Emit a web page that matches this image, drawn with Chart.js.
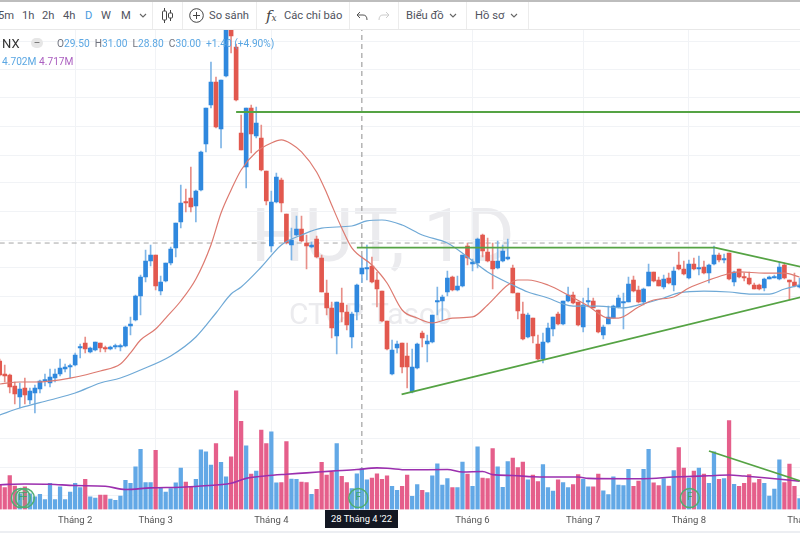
<!DOCTYPE html>
<html>
<head>
<meta charset="utf-8">
<title>HUT, 1D</title>
<script src="https://cdn.jsdelivr.net/npm/chart.js@4/dist/chart.umd.min.js"></script>
<style>
  html, body { margin: 0; padding: 0; background: #fff; }
  #wrap { position: relative; width: 800px; height: 533px; overflow: hidden; font-family: Roboto, "Noto Sans", sans-serif; color: #444; filter: blur(0.35px); }
  #cookie { position: absolute; left: 0; top: 0; }
  .wm { position: absolute; color: #ebebee; white-space: nowrap; }
  #toolbar { position: absolute; left: 0; top: 0; width: 800px; height: 30px; background: #fff; border-top: 2px solid #bdbdbd; border-bottom: 1px solid #e8e8e8; box-sizing: border-box; }
  #toolbar span, #toolbar svg, #toolbar i { position: absolute; }
  #toolbar span { top: 7px; font-size: 11.2px; line-height: 14px; color: #50535e; white-space: nowrap; }
  #toolbar i { top: 0; bottom: 0; width: 1px; background: #ececec; }
  .leg { position: absolute; font-size: 10.2px; line-height: 13px; color: #5ba7e3; white-space: nowrap; }
  .leg b { font-weight: 400; color: #70737e; }
  #pill { position: absolute; left: 31px; top: 38px; width: 12px; height: 10px; border-radius: 5px; background: #e6e6e6; color: #666; font-size: 10px; line-height: 9px; text-align: center; }
  #stamp { position: absolute; left: 325px; top: 510px; width: 73px; height: 18px; background: #131722; color: #fff; font-size: 9.4px; line-height: 18px; text-align: center; }
  #foot { position: absolute; left: 0; top: 531px; width: 800px; height: 2px; background: #eceef2; }
</style>
</head>
<body>
<div id="wrap">
  <div class="wm" style="left:251px;top:193px;font-size:75px;line-height:84px;">HUT, 1D</div>
  <div class="wm" style="left:289px;top:293px;font-size:30px;line-height:42px;">CTCP Tasco</div>
  <canvas id="cookie" width="800" height="533"></canvas>
  <div id="toolbar">
    <span style="left:-2px">5m</span><span style="left:22px">1h</span><span style="left:42px">2h</span><span style="left:63px">4h</span>
    <span style="left:85px;color:#4a9be0">D</span><span style="left:101px">W</span><span style="left:121px">M</span>
    <svg style="left:139px;top:11px" width="8" height="6"><path d="M1 1l3 3 3-3" fill="none" stroke="#666" stroke-width="1.1"/></svg>
    <i style="left:152px"></i>
    <svg style="left:161px;top:5px" width="13" height="17"><path d="M3.5 1v15M9.5 3v11" stroke="#444"/><rect x="1.5" y="4" width="4" height="9" rx="1" fill="#fff" stroke="#444"/><rect x="7.5" y="6" width="4" height="5" rx="1" fill="#fff" stroke="#444"/></svg>
    <i style="left:182px"></i>
    <svg style="left:189px;top:6px" width="15" height="15"><circle cx="7.5" cy="7.5" r="6.8" fill="none" stroke="#444"/><path d="M7.5 4v7M4 7.5h7" stroke="#444"/></svg>
    <span style="left:209px">So sánh</span>
    <i style="left:256px"></i>
    <span style="left:266px;top:5px;font:italic 15px 'DejaVu Serif',serif;color:#444">f<small style="font-size:9px">x</small></span>
    <span style="left:284px">Các chỉ báo</span>
    <i style="left:349px"></i>
    <svg style="left:356px;top:9px" width="12" height="10"><path d="M4 1L1 4l3 3M1 4h6q4 0 4 5" fill="none" stroke="#555"/></svg>
    <svg style="left:378px;top:9px" width="12" height="10"><path d="M8 1l3 3-3 3M11 4H5q-4 0-4 5" fill="none" stroke="#ccc"/></svg>
    <i style="left:398px"></i>
    <span style="left:406px">Biểu đồ</span>
    <svg style="left:449px;top:11px" width="8" height="6"><path d="M1 1l3 3 3-3" fill="none" stroke="#666" stroke-width="1.1"/></svg>
    <i style="left:466px"></i>
    <span style="left:475px">Hồ sơ</span>
    <svg style="left:510px;top:11px" width="8" height="6"><path d="M1 1l3 3 3-3" fill="none" stroke="#666" stroke-width="1.1"/></svg>
    <i style="left:528px"></i>
  </div>
  <div class="leg" style="left:2px;top:36px;font-size:13px;line-height:15px;color:#333">NX</div>
  <div id="pill">–</div>
  <div class="leg" style="left:57px;top:37px"><b>O</b>29.50&nbsp; <b>H</b>31.00&nbsp; <b>L</b>28.80&nbsp; <b>C</b>30.00&nbsp; +1.40 (+4.90%)</div>
  <div class="leg" style="left:2px;top:55px">4.702M</div>
  <div class="leg" style="left:39px;top:55px;color:#ab5fc0">4.717M</div>
  <div id="stamp">28 Tháng 4 '22</div>
  <div id="foot"></div>
</div>
<script>
var opens = [22.25,21.17,21.08,20.17,19.25,20,19,19.58,19.92,20.58,20.42,20.83,21.17,21.58,21.75,21.92,23.33,23.75,23,23.17,
  23.75,23.33,23.25,23.42,23.42,23.5,25.17,25.67,27.67,29.25,30.58,31.08,28.08,28.92,30.42,31.67,33.83,35.5,35.83,35.17,
  36.5,40.33,43.58,45.5,41.58,46,50.25,48.42,41.25,38.42,43.33,41,40.83,38.08,31.83,35.5,37.33,34.5,31.92,32.75,
  33.25,32.08,31.75,32.42,30.83,27.92,26.67,24.33,27.08,26.33,24.25,26.33,29.5,29.92,30.17,29,28.08,25.58,21.17,23.33,
  23.75,22.67,19.67,21.67,24.58,23.67,23.83,27.17,27.25,28,29.25,28.17,28.5,31.83,30.33,30.42,32.75,31.33,30.58,30,
  30.58,30.75,30,27.92,26.17,24.25,25.83,23.67,22.42,23.83,24.92,26.17,25.33,27.25,27.75,27.17,25.08,27.17,27.25,26.5,
  24.42,25.33,25.83,26.75,27.08,27.17,29,28.17,27.17,28.5,29.67,29,28.42,29.17,28.58,30.25,29.92,29.17,30.33,29.92,
  30.08,29.58,30.33,31.08,30.67,31.25,28.83,29.92,29.25,29.17,28.58,28.58,28.33,29.08,29.17,29.08,30.25,29,28.83,28.42];
var closes = [21.08,21,20.08,19.5,19.92,19.42,19.75,20,20.58,20.67,20.92,21.17,21.67,21.75,21.83,22.75,23.42,23.25,23.33,23.83,
  23.33,23.25,23.42,23.5,23.5,25.08,25.33,27.67,29.25,30.58,31.08,28.5,28.83,30.42,31.58,33.75,35.42,35.42,35.08,36.42,
  39.67,43.33,45.5,41.75,45.67,50.08,49.33,44,39.83,43.33,41.17,42.08,38.17,35.58,35.5,37.58,35.42,32.08,32.33,33.25,
  32.25,31.83,31.92,30.92,28,26.67,25,27.17,26.33,25.25,26.17,28.58,30,30,28.83,28.25,25.58,23.25,23.17,23.67,
  21.75,21.75,21.75,23.67,24.17,23.92,26.08,27.25,27.58,29.17,28.17,28.5,31.08,30.83,30.5,32.42,31.42,30.58,29.92,30.58,
  31.42,30.92,27.92,26.42,24.08,26.08,24.33,22.42,23.83,25,25.92,25.33,27.25,27.75,27.08,25.25,26.92,27.25,26.67,24.67,
  25.08,25.92,26.83,27.5,27.17,28.67,28.08,27.17,28.25,29.67,28.92,28.5,29.08,28.75,29.75,29.92,29.5,30.33,29.92,30,
  29.58,30.25,31.08,30.67,30.75,29.08,29.67,29.25,29.17,28.67,28.25,28.25,29.08,29.25,29.25,30.08,29.17,28.83,28.5,28.58];
var highs = [22.42,21.92,21.17,20.5,20.42,20.83,20,20.25,20.67,21.17,21.58,21.58,22.42,22,22,22.92,23.67,24.25,23.42,23.83,
  23.75,23.5,23.5,23.67,23.67,25.17,25.92,27.75,29.42,31.5,31.92,31.08,29.33,30.42,31.75,33.75,36.92,36.58,38.42,36.5,
  39.75,43.33,47.17,45.92,45.67,50.5,50.67,48.67,42.75,43.33,43.58,43.42,41.92,38.08,36.42,37.92,37.5,34.5,33.33,34.33,
  34.33,32.75,32.17,32.67,31.08,29,27.17,27.17,28.33,26.92,26.33,28.67,31,31.92,30.92,29.67,28.08,25.58,24,23.92,
  23.75,23.75,23.25,23.75,24.75,24.42,26.08,28.42,27.75,29.75,29.33,29.33,31.08,32.08,30.75,32.5,32.83,32.5,32.08,32.25,
  31.92,32.42,30.25,27.92,27.17,26.25,25.83,24.42,24.58,25.42,25.92,26.33,27.25,28.42,28,27.17,27.5,28.33,27.5,26.5,
  25.25,26.83,26.92,27.75,27.92,29.25,29.33,28.5,28.33,30.33,29.67,29.25,29.42,29.58,30.08,31.33,30.58,30.67,30.83,31,
  30.58,30.33,31.83,31.25,31.17,31.25,29.75,29.92,29.58,29.67,28.75,28.67,29.17,29.33,29.42,30.5,30.42,29,29.58,29.17];
var lows = [21,20.5,19.58,18.67,18.33,18.67,18.67,17.92,19.58,20.17,20.08,20.5,21,21.33,20.83,21.83,22.5,22.92,22.92,23.08,
  23,23,23.17,23.25,23.08,23.42,24.42,25.58,26.08,28.83,30.17,28.17,27.75,28.83,30.25,30.92,33.33,34.67,34.67,33.83,
  36.42,39.67,43.33,41.67,40,45.92,47.92,43.92,39.83,36.67,39.58,40.83,38.08,35.25,31.33,35.42,34.67,32,30.67,32.67,
  32.17,29.92,31.67,30.83,28,26.08,24.17,22.83,25.5,24.83,23.33,25.67,28.8,29,28.75,26.75,25.5,23.17,21.08,22.92,
  21.25,20,19.58,21.58,23.42,22.17,23.75,26.08,25.67,27.67,28.08,28.08,28.42,30.25,29.75,30,30.92,30.5,28.25,29.92,
  30.5,30.67,27.92,25.75,24,24.17,23.75,22.33,22.08,23.75,24.33,25.25,25.25,27.17,27,25.17,24.67,26.75,26.67,24.58,
  24.08,25.33,25.83,26.67,24.92,27.17,28,27.08,26.92,28.5,28.83,28.5,28.25,28.67,28.08,29.83,29.42,29.08,29.83,29.42,
  29.5,28.75,30.25,30.5,30.42,29,28.5,29.17,28.92,28.58,28.25,28.17,28.08,29.08,29.17,29,29.08,27.33,28.42,28.33];
var volumes = [2.86,2.5,3.9,2.7,1.8,2.6,1.8,1.45,1.75,1.15,3,1.15,2.6,1.15,2,3,2.5,3.45,1.45,1.3,
  1.65,1.65,1.2,1.05,1.55,3.35,3,4.9,6.9,3.1,3.1,6.8,2.5,2,2.4,3.05,4.75,3.15,2.6,3.45,
  6.85,6.6,5.1,7.55,5.4,3.75,6.05,13.6,10.1,7.3,4.05,4.4,9.1,7.55,8.9,3.05,3.1,7.8,3.5,3.45,
  3.15,3.1,1.75,2.3,5.4,3.95,4.3,7.55,3.8,3.1,2.4,4.1,4.7,3.4,3.6,4.1,3.45,3.85,2.65,2.2,
  2.65,3.95,1.5,2.85,2.2,1.95,3.85,5.25,2.8,3.55,2.5,2.5,5.45,4.05,2.65,7.2,3.6,3.55,7,4.9,
  2.55,5.5,5.9,4.8,5.45,3.4,3.95,3.2,5.15,2.5,2.1,3.4,3.1,2.5,2.85,4,3.45,2.6,2.6,4.05,
  2.15,1.7,3.75,2.8,2.75,4.6,2.65,3.25,4.6,6.9,3.05,2.75,3.55,2.7,4.45,7.1,4.75,3.6,4.4,4.75,
  4.05,3,6.6,3.45,3.55,10.2,2.9,2.65,3,4,3.05,3.45,3,1.55,2.35,5.7,3.1,5.2,2.65,1.25];

// moving averages, read as waypoints along each curve
var maRedIdx = [0,4,7,10,14,20,24,26,28,31,33,36,39,42,44,46,48,51,54,56,58,60,63,65,66,68,70,74,77,80,83,86,90,94,97,101,103,105,109,113,117,121,123,127,130,134,137,141,144,147,152,156,159];
var maRed = [20.33,20.5,20.5,20.58,20.83,21.42,22,22.92,24,24.92,25.83,27.25,29.08,31.92,34.58,36.5,38.17,39.67,40.42,40.67,40.33,39.67,38,36.25,35.25,33.33,31.67,30.25,28.75,26.5,25.83,25.42,25.83,25.92,26.92,28.58,29,29,28.58,27.75,26.83,25.83,25.83,26.75,27.33,27.58,28.33,29,29.42,29.67,29.58,29.58,29.25];
var maBlueIdx = [0,4,10,15,20,24,28,34,39,43,46,48,52,56,60,64,70,73,76,80,84,89,93,97,102,105,109,112,114,119,124,127,132,135,140,145,149,153,156,159];
var maBlue = [17.75,18.33,19,19.58,20.42,20.83,21.5,22.67,24.25,26.25,27.83,28.42,30.08,31.92,32.75,33.33,33.5,33.92,34,33.58,32.75,32.08,30.92,29.67,28.58,28,27.5,27,26.83,26.83,26.67,26.92,27.5,27.92,28.08,28,27.83,27.83,28.25,28.58];
var volMaIdx = [0,5,10,15,21,25,30,36,40,46,49,53,57,61,66,71,75,77,81,89,92,96,98,102,106,109,115,117,125,128,134,141,145,148,152,159];
var volMa = [2.84,2.93,2.9,2.75,2.67,2.29,2.48,2.56,2.7,3,3.57,3.87,4.05,4.2,4.4,4.58,4.77,4.73,4.55,4.58,4.3,4.35,4,3.9,3.75,3.72,3.72,3.57,3.53,3.53,3.72,3.87,3.95,3.84,3.65,3.25];

// trend lines drawn on the picture: start index, start price, end index, end price
var trendResist = [47, 43, 160, 43];
var trendFlat = [71, 31.7, 142.2, 31.7];
var trendFall = [142.2, 31.7, 159.2, 30.1];
var trendRise = [79.9, 19.47, 159.2, 27.56];
var trendVolFall = [141, 14.75, 159.2, 12.25];

// 5 and 150 are blank spacer ticks, they stop the axis padding the chart for its end labels
var monthTicks = [5, 15, 31, 54, 94, 116, 137, 160, 150];
var monthLabels = ["", "Tháng 2", "Tháng 3", "Tháng 4", "Tháng 6", "Tháng 7", "Tháng 8", "Tháng 9", ""];
var priceGrid = [48.9, 46.5, 44.2, 41.8, 39.4, 37.1, 34.7, 32.3, 30, 27.6, 25.2, 22.9, 20.5, 18.2, 15.8, 13.4, 11];
var markerIdx = [4.2, 5, 71.3, 137.2];
var hoverIdx = 72;
var hoverPrice = 32.08;

var upBody = "#2f88de", downBody = "#e2584e";
var upWick = "#7fb5e6", downWick = "#e88f88";
var upVol = "#62a8e6", downVol = "#e55f8b";

var idx = opens.map(function (o, i) { return i; });
function isUp(i) { return closes[i] >= opens[i]; }

function pairs(xs, ys) {
    return xs.map(function (x, i) { return { x: x, y: ys[i] }; });
}
function segment(t) {
    return [{ x: t[0], y: t[1] }, { x: t[2], y: t[3] }];
}
function trendSet(t, axis) {
    return { type: "line", data: segment(t), yAxisID: axis || "y", borderColor: "#55a344", borderWidth: 1.8, pointRadius: 0, order: 1 };
}
function maSet(points, color, width, axis) {
    return {
        type: "line", data: points, yAxisID: axis || "y", borderColor: color, borderWidth: width,
        pointRadius: 0, cubicInterpolationMode: "monotone", order: 2
    };
}

// small "F" inside each green marker
var markerText = {
    id: "markerText",
    afterDatasetsDraw: function (chart) {
        var ctx = chart.ctx;
        var x = chart.scales.x, y = chart.scales.y1;
        ctx.save();
        ctx.fillStyle = "#3fa66a";
        ctx.font = "10px Roboto";
        ctx.textAlign = "center";
        ctx.textBaseline = "middle";
        markerIdx.forEach(function (m) {
            ctx.fillText("F", x.getPixelForValue(m), y.getPixelForValue(1.32));
        });
        ctx.restore();
    }
};

var cookieChart = new Chart(document.getElementById("cookie"), {
    data: {
        datasets: [
            trendSet(trendResist), trendSet(trendFlat), trendSet(trendFall), trendSet(trendRise), trendSet(trendVolFall),
            maSet(pairs(maRedIdx, maRed), "#dd7a70", 1.2),
            maSet(pairs(maBlueIdx, maBlue), "#6fa9d6", 1.2),
            maSet(pairs(volMaIdx, volMa), "#9b2fae", 1.6, "y1"),
            {
                type: "line", data: [{ x: hoverIdx, y: 10 }, { x: hoverIdx, y: 52 }], borderColor: "#8d8d8d", borderWidth: 1,
                borderDash: [5, 4], pointRadius: 0, order: 6
            },
            {
                type: "line", data: [{ x: 0, y: hoverPrice }, { x: 160, y: hoverPrice }], borderColor: "#a5a5a5", borderWidth: 1,
                borderDash: [5, 4], pointRadius: 0, order: 6
            },
            {
                type: "scatter", data: markerIdx.map(function (m) { return { x: m, y: 1.32 }; }), yAxisID: "y1",
                pointRadius: 9.5, pointBackgroundColor: "rgba(90,190,130,0.12)", pointBorderColor: "#4fae72", pointBorderWidth: 1.5, order: 0
            },
            {
                type: "bar", grouped: false, order: 3, barThickness: 4,
                data: idx.map(function (i) { return { x: i, y: [opens[i], closes[i]] }; }),
                backgroundColor: idx.map(function (i) { return isUp(i) ? upBody : downBody; }),
                minBarLength: 1.5
            },
            {
                type: "bar", grouped: false, order: 3, barThickness: 1,
                data: idx.map(function (i) { return { x: i, y: [lows[i], highs[i]] }; }),
                backgroundColor: idx.map(function (i) { return isUp(i) ? upWick : downWick; })
            },
            {
                type: "bar", grouped: false, order: 5, barThickness: 3.6, yAxisID: "y1",
                data: idx.map(function (i) { return { x: i, y: volumes[i] }; }),
                backgroundColor: idx.map(function (i) { return isUp(i) ? upVol : downVol; })
            }
        ]
    },
    options: {
        responsive: false,
        animation: false,
        events: [],
        layout: { padding: 0, autoPadding: false },
        plugins: { legend: { display: false }, tooltip: { enabled: false } },
        scales: {
            x: {
                type: "linear", min: 0.06, max: 159.1, offset: false,
                afterBuildTicks: function (s) { s.ticks = monthTicks.map(function (v) { return { value: v }; }); },
                afterFit: function (s) { s.height = 23.5; },
                grid: {
                    drawTicks: false, offset: false,
                    color: function (c) { return c.tick && monthLabels[monthTicks.indexOf(c.tick.value)] ? "#f1f3f6" : "rgba(0,0,0,0)"; }
                },
                border: { display: false },
                ticks: {
                    autoSkip: false, maxRotation: 0, padding: 5, align: "inner", color: "#555", font: { family: "Roboto", size: 9.5 },
                    callback: function (v) { return monthLabels[monthTicks.indexOf(v)]; }
                }
            },
            y: {
                min: 9.875, max: 52.333,
                afterBuildTicks: function (s) { s.ticks = priceGrid.map(function (v) { return { value: v }; }); },
                afterFit: function (s) { s.width = 0; },
                grid: { color: "#f1f3f6", drawTicks: false },
                border: { display: false },
                ticks: { display: false }
            },
            y1: { display: false, min: 0, max: 58.43 }
        }
    },
    plugins: [markerText]
});
</script>
</body>
</html>
